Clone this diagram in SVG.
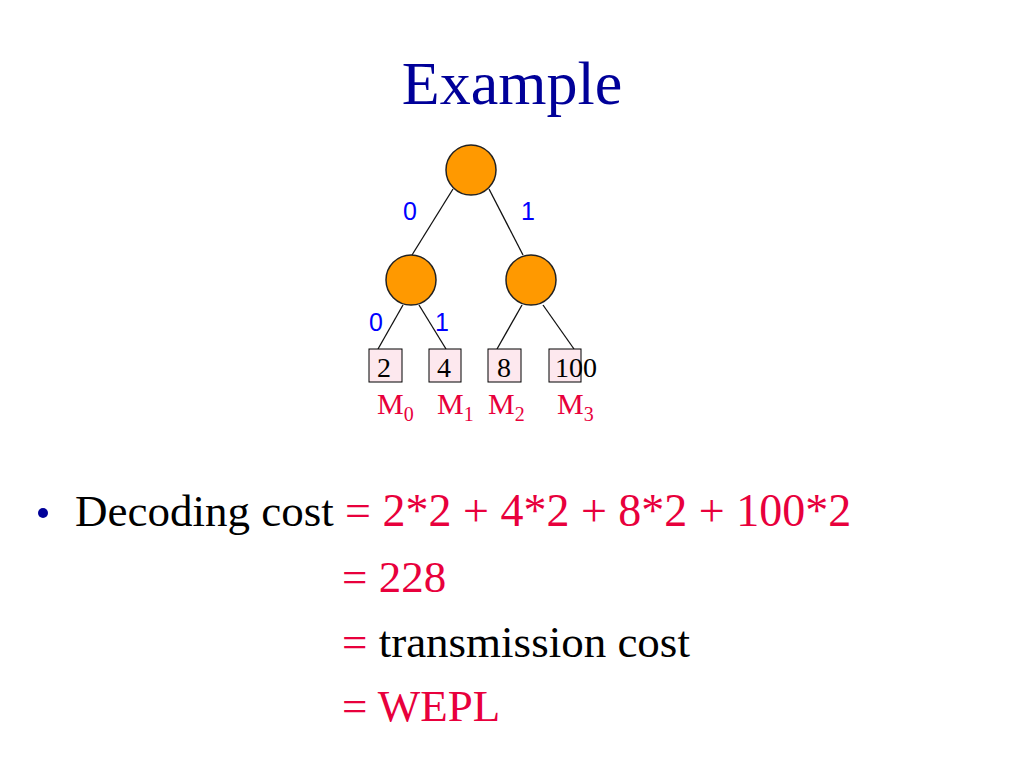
<svg xmlns="http://www.w3.org/2000/svg" width="1024" height="768" viewBox="0 0 1024 768">
<style>
.serif{font-family:"Liberation Serif","Times New Roman",serif}
.sans{font-family:"Liberation Sans",Arial,sans-serif}
.node{fill:#ff9900;stroke:#222;stroke-width:1.5}
.leaf{fill:#fde8ee;stroke:#000;stroke-width:1}
.edge{stroke:#111;stroke-width:1.3;fill:none}
.bit{font-size:25px;fill:#0000ff}
.val{font-size:28px;fill:#000}
.m{font-size:30px;fill:#e8003c}
.red{fill:#e8003c}
.blk{fill:#000}
.big{font-size:45px}
</style>
<rect width="1024" height="768" fill="#fff"/>
<text class="serif" x="512" y="104" text-anchor="middle" font-size="62" fill="#000099">Example</text>
<g id="connectors">
<line class="edge" x1="453" y1="189" x2="412" y2="255"/>
<line class="edge" x1="489" y1="189" x2="523" y2="255"/>
<line class="edge" x1="403" y1="305" x2="378" y2="349"/>
<line class="edge" x1="419" y1="305" x2="446" y2="349"/>
<line class="edge" x1="522" y1="305" x2="497" y2="349"/>
<line class="edge" x1="543" y1="305" x2="574" y2="349"/>
</g>
<g id="root"><circle class="node" cx="471" cy="170" r="25"/></g>
<g id="n0"><circle class="node" cx="411" cy="280" r="25"/></g>
<g id="n1"><circle class="node" cx="531" cy="280" r="25"/></g>
<g id="bits" class="sans">
<text class="bit" x="403" y="220">0</text>
<text class="bit" x="521" y="220">1</text>
<text class="bit" x="369" y="331">0</text>
<text class="bit" x="435" y="331">1</text>
</g>
<g id="leaf0"><rect class="leaf" x="369" y="349" width="33" height="33"/><text class="serif val" x="377" y="377">2</text></g>
<g id="leaf1"><rect class="leaf" x="429" y="349" width="32" height="33"/><text class="serif val" x="437" y="377">4</text></g>
<g id="leaf2"><rect class="leaf" x="488" y="349" width="33" height="33"/><text class="serif val" x="497" y="377">8</text></g>
<g id="leaf3"><rect class="leaf" x="549" y="349" width="32" height="33"/><text class="serif val" x="555" y="377">100</text></g>
<g id="mlabels" class="serif">
<text class="m" x="377" y="414">M<tspan font-size="20" dy="7">0</tspan></text>
<text class="m" x="437" y="414">M<tspan font-size="20" dy="7">1</tspan></text>
<text class="m" x="488" y="414">M<tspan font-size="20" dy="7">2</tspan></text>
<text class="m" x="557" y="414">M<tspan font-size="20" dy="7">3</tspan></text>
</g>
<g id="body" class="serif big">
<circle cx="43" cy="513" r="5" fill="#000099"/>
<text x="75" y="526" class="blk">Decoding cost</text>
<text x="345" y="526" class="red" font-size="46">= 2*2 + 4*2 + 8*2 + 100*2</text>
<text x="342" y="592" class="red">= 228</text>
<text x="342" y="657"><tspan class="red">=</tspan><tspan class="blk"> transmission cost</tspan></text>
<text x="342" y="721" class="red">= WEPL</text>
</g>
</svg>
